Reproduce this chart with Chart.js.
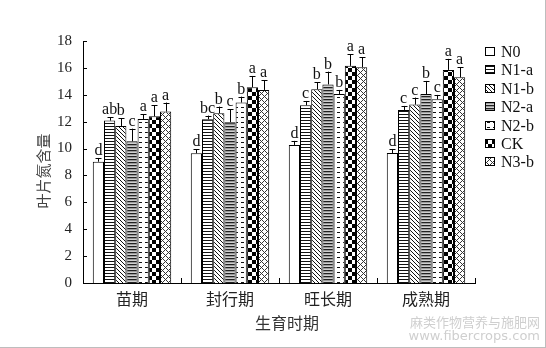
<!DOCTYPE html>
<html>
<head>
<meta charset="utf-8">
<script src="https://cdn.jsdelivr.net/npm/chart.js"></script>
<style>
  body { margin: 0; background: #fff; }
  #wrap { width: 546px; height: 348px; }
</style>
</head>
<body>
<div id="wrap"><canvas id="chart" width="546" height="348"></canvas></div>
<script>
// categorias (fases de crescimento)
const stages = ['苗期', '封行期', '旺长期', '成熟期'];
const seriesNames = ['N0', 'N1-a', 'N1-b', 'N2-a', 'N2-b', 'CK', 'N3-b'];

// valores
const n0 = [9.02, 9.65, 10.27, 9.67];
const n1a = [12.08, 12.18, 13.22, 12.87];
const n1b = [11.68, 12.63, 14.41, 13.27];
const n2a = [10.54, 11.96, 14.77, 14.06];
const n2b = [12.2, 13.42, 14.06, 13.67];
const ck = [12.4, 14.56, 16.15, 15.85];
const n3b = [12.75, 14.36, 16.05, 15.3];

// barras de erro (só para cima)
const errN0 = [0.28, 0.3, 0.3, 0.3];
const errN1a = [0.25, 0.27, 0.32, 0.3];
const errN1b = [0.57, 0.49, 0.52, 0.52];
const errN2a = [0.94, 0.96, 0.95, 0.97];
const errN2b = [0.37, 0.44, 0.3, 0.32];
const errCk = [0.82, 0.84, 0.85, 0.82];
const errN3b = [0.67, 0.74, 0.75, 0.75];

// letras de significância
const sigN0 = ['d', 'd', 'd', 'd'];
const sigN1a = ['ab', 'bc', 'c', 'c'];
const sigN1b = ['b', 'b', 'b', 'c'];
const sigN2a = ['c', 'c', 'b', 'b'];
const sigN2b = ['a', 'b', 'b', 'c'];
const sigCk = ['a', 'a', 'a', 'a'];
const sigN3b = ['a', 'a', 'a', 'a'];

const yTicks = [0, 2, 4, 6, 8, 10, 12, 14, 16, 18];

// padrões de preenchimento
function makePattern(type) {
    const c = document.createElement('canvas');
    const g = c.getContext('2d');
    if (type === 'hlines') {
        c.width = 4; c.height = 3;
        g.fillStyle = '#fff'; g.fillRect(0, 0, 4, 3);
        g.fillStyle = '#111'; g.fillRect(0, 0, 4, 1);
    } else if (type === 'diag') {
        c.width = 4; c.height = 4;
        g.fillStyle = '#fff'; g.fillRect(0, 0, 4, 4);
        g.fillStyle = '#111';
        for (let i = 0; i < 4; i++) g.fillRect(i, i, 1, 1);
    } else if (type === 'dense') {
        c.width = 4; c.height = 3;
        g.fillStyle = '#9a9a9a'; g.fillRect(0, 0, 4, 3);
        g.fillStyle = '#222'; g.fillRect(0, 0, 4, 1);
        g.fillStyle = '#d0d0d0'; g.fillRect(0, 2, 4, 1);
    } else if (type === 'dash') {
        c.width = 6; c.height = 5;
        g.fillStyle = '#fff'; g.fillRect(0, 0, 6, 5);
        g.fillStyle = '#111'; g.fillRect(1, 2, 3, 1);
    } else if (type === 'check') {
        c.width = 8; c.height = 8;
        g.fillStyle = '#fff'; g.fillRect(0, 0, 8, 8);
        g.fillStyle = '#000';
        g.fillRect(0, 0, 4, 4); g.fillRect(4, 4, 4, 4);
    } else if (type === 'cross') {
        c.width = 6; c.height = 6;
        g.fillStyle = '#fff'; g.fillRect(0, 0, 6, 6);
        g.fillStyle = '#333';
        for (let i = 0; i < 6; i++) {
            g.fillRect(i, i, 1, 1);
            g.fillRect(i, (6 - i) % 6, 1, 1);
        }
    }
    return g.createPattern(c, 'repeat');
}

const values = [n0, n1a, n1b, n2a, n2b, ck, n3b];
const errors = [errN0, errN1a, errN1b, errN2a, errN2b, errCk, errN3b];
const letters = [sigN0, sigN1a, sigN1b, sigN2a, sigN2b, sigCk, sigN3b];
const fills = ['#fff', makePattern('hlines'), makePattern('diag'), makePattern('dense'),
    makePattern('dash'), makePattern('check'), makePattern('cross')];

const serif = '"Liberation Serif", "DejaVu Serif", serif';
const cjk = '"Noto Sans CJK SC", sans-serif';

// desenha barras de erro, letras, ticks internos, legenda e títulos
const extras = {
    id: 'extras',
    afterDatasetsDraw(chart) {
        const ctx = chart.ctx;
        const ys = chart.scales.y;
        const xs = chart.scales.x;
        ctx.save();
        ctx.strokeStyle = '#000';
        ctx.lineWidth = 1;
        chart.data.datasets.forEach((ds, di) => {
            const meta = chart.getDatasetMeta(di);
            meta.data.forEach((bar, i) => {
                const x = Math.round(bar.x) + 0.5;
                const top = ys.getPixelForValue(values[di][i] + errors[di][i]);
                ctx.beginPath();
                ctx.moveTo(x, bar.y);
                ctx.lineTo(x, top);
                ctx.moveTo(x - 3, Math.round(top) + 0.5);
                ctx.lineTo(x + 3, Math.round(top) + 0.5);
                ctx.stroke();
                ctx.fillStyle = '#111';
                ctx.font = '16px ' + serif;
                ctx.textAlign = 'center';
                ctx.textBaseline = 'alphabetic';
                ctx.fillText(letters[di][i], bar.x, top - 3);
            });
        });

        // ticks para dentro
        ctx.beginPath();
        yTicks.forEach(v => {
            const y = Math.round(ys.getPixelForValue(v)) + 0.5;
            ctx.moveTo(xs.left, y);
            ctx.lineTo(xs.left + 4, y);
        });
        const catW = (xs.right - xs.left) / stages.length;
        for (let i = 1; i <= stages.length; i++) {
            const x = Math.round(xs.left + i * catW) + 0.5;
            ctx.moveTo(x, ys.bottom);
            ctx.lineTo(x, ys.bottom - 5);
        }
        ctx.stroke();

        // legenda
        ctx.font = '16px ' + serif;
        ctx.textAlign = 'left';
        ctx.textBaseline = 'middle';
        seriesNames.forEach((name, i) => {
            const cy = Math.round(52 + i * 18.4);
            ctx.fillStyle = fills[i];
            ctx.fillRect(485, cy - 4, 9, 8);
            ctx.strokeRect(485.5, cy - 4.5, 9, 8);
            ctx.fillStyle = '#111';
            ctx.fillText(name, 501, cy + 1);
        });

        // títulos dos eixos
        ctx.fillStyle = '#333';
        ctx.font = '16px ' + cjk;
        ctx.textAlign = 'center';
        ctx.fillText('生育时期', 287, 323);
        ctx.save();
        ctx.translate(43, 171);
        ctx.rotate(-Math.PI / 2);
        ctx.fillStyle = '#444';
        ctx.font = '15px ' + cjk;
        ctx.fillText('叶片氮含量', 0, 0);
        ctx.restore();

        // marca d'água
        ctx.fillStyle = '#cfcfcf';
        ctx.font = '13px ' + cjk;
        ctx.textAlign = 'right';
        ctx.fillText('麻类作物营养与施肥网', 540, 322);
        ctx.font = '13px "DejaVu Sans", sans-serif';
        ctx.fillText('www.fibercrops.com', 540, 337);

        // borda da imagem
        ctx.strokeStyle = '#bdbdbd';
        ctx.beginPath();
        ctx.moveTo(545.5, 0);
        ctx.lineTo(545.5, 348);
        ctx.moveTo(0, 347.5);
        ctx.lineTo(546, 347.5);
        ctx.stroke();
        ctx.restore();
    }
};

function createChart() {
    const ctx = document.getElementById('chart').getContext('2d');
    new Chart(ctx, {
        type: 'bar',
        data: {
            labels: stages,
            datasets: seriesNames.map((name, i) => ({
                label: name,
                data: values[i],
                backgroundColor: fills[i],
                borderColor: '#000',
                borderWidth: 1,
                categoryPercentage: 0.8,
                barPercentage: 1.0
            }))
        },
        options: {
            responsive: false,
            animation: false,
            layout: { padding: { left: 0, top: 41, right: 71, bottom: 0 } },
            plugins: {
                legend: { display: false },
                tooltip: { enabled: false }
            },
            scales: {
                x: {
                    grid: { display: false, drawTicks: false },
                    border: { display: true, color: '#000', width: 1 },
                    ticks: { color: '#222', padding: 6, font: { family: cjk, size: 16 } },
                    afterFit(scale) { scale.height = 65; }
                },
                y: {
                    min: 0,
                    max: 18,
                    grid: { display: false, drawTicks: false },
                    border: { display: true, color: '#000', width: 1 },
                    ticks: { stepSize: 2, color: '#222', padding: 11, font: { family: serif, size: 15 } },
                    afterFit(scale) { scale.width = 83; }
                }
            }
        },
        plugins: [extras]
    });
}

createChart();
</script>
</body>
</html>
